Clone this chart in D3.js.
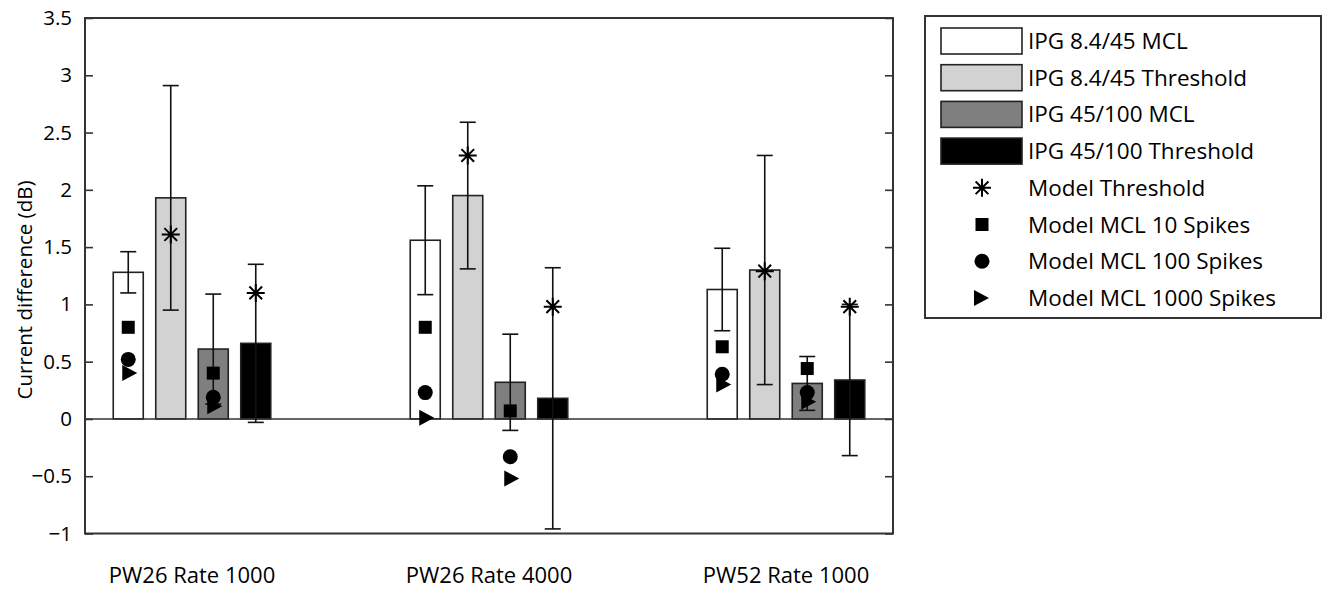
<!DOCTYPE html>
<html>
<head>
<meta charset="utf-8">
<script src="https://cdn.jsdelivr.net/npm/d3@7"></script>
<style>
  body { margin: 0; background: #fff; }
  svg text { font-family: "Open Sans", sans-serif; fill: #000; }
</style>
</head>
<body>
<svg width="1322" height="592"></svg>
<script>
const groups = ['PW26 Rate 1000', 'PW26 Rate 4000', 'PW52 Rate 1000'];
const series = ['IPG 8.4/45 MCL', 'IPG 8.4/45 Threshold', 'IPG 45/100 MCL', 'IPG 45/100 Threshold'];
const yTicks = [-1, -0.5, 0, 0.5, 1, 1.5, 2, 2.5, 3, 3.5];

// bar means per series, one value per group
const mcl84 = [1.28, 1.56, 1.13];
const thr84 = [1.93, 1.95, 1.30];
const mcl45 = [0.61, 0.32, 0.31];
const thr45 = [0.66, 0.18, 0.34];

// error bar half-lengths
const mcl84Err = [0.18, 0.475, 0.36];
const thr84Err = [0.98, 0.64, 1.00];
const mcl45Err = [0.48, 0.42, 0.235];
const thr45Err = [0.69, 1.14, 0.66];

// model predictions (threshold bars get the asterisk, MCL bars the spikes)
const modelThr84 = [1.61, 2.30, 1.29];
const modelThr45 = [1.10, 0.98, 0.98];
const spikes10_84 = [0.80, 0.80, 0.63];
const spikes10_45 = [0.40, 0.07, 0.44];
const spikes100_84 = [0.52, 0.23, 0.39];
const spikes100_45 = [0.19, -0.33, 0.23];
const spikes1000_84 = [0.40, 0.01, 0.30];
const spikes1000_45 = [0.11, -0.52, 0.15];

const fills = ['#ffffff', '#d2d2d2', '#7f7f7f', '#000000'];
const barValues = [mcl84, thr84, mcl45, thr45];
const barErrors = [mcl84Err, thr84Err, mcl45Err, thr45Err];

const svg = d3.select('svg');
const plot = { left: 85, right: 893, top: 18, bottom: 533.5 };
const axisColor = '#333';

const x = d3.scaleLinear().domain([0.6397, 3.3603]).range([plot.left, plot.right]);
const unit = x(2) - x(1);
const xInner = d3.scaleBand().domain(series)
  .range([-0.2652 * unit, 0.2652 * unit]).paddingInner(0.294);
const y = d3.scaleLinear().domain([-1, 3.5]).range([plot.bottom, plot.top]);

const barX = (g, s) => x(g + 1) + xInner(series[s]);
const barC = (g, s) => barX(g, s) + xInner.bandwidth() / 2;

// bars
const bars = [];
series.forEach((s, si) => groups.forEach((g, gi) => {
  bars.push({ si, gi, v: barValues[si][gi], e: barErrors[si][gi] });
}));

svg.append('g').selectAll('rect').data(bars).enter().append('rect')
  .attr('x', d => barX(d.gi, d.si))
  .attr('width', xInner.bandwidth())
  .attr('y', d => y(Math.max(0, d.v)))
  .attr('height', d => Math.abs(y(d.v) - y(0)))
  .attr('fill', d => fills[d.si])
  .attr('stroke', '#222')
  .attr('stroke-width', 1.6);

// zero line
svg.append('line')
  .attr('x1', plot.left).attr('x2', plot.right)
  .attr('y1', y(0)).attr('y2', y(0))
  .attr('stroke', axisColor).attr('stroke-width', 1.6);

// error bars
const eb = svg.append('g').attr('stroke', '#111').attr('stroke-width', 1.6);
bars.forEach(d => {
  const cx = barC(d.gi, d.si);
  eb.append('line').attr('x1', cx).attr('x2', cx)
    .attr('y1', y(d.v + d.e)).attr('y2', y(d.v - d.e));
  [d.v + d.e, d.v - d.e].forEach(v => {
    eb.append('line').attr('x1', cx - 8).attr('x2', cx + 8)
      .attr('y1', y(v)).attr('y2', y(v));
  });
});

// marker shapes
const asterisk = (r) => {
  const a = r * 0.7071;
  return `M${-r},0L${r},0M0,${-r}L0,${r}M${-a},${-a}L${a},${a}M${-a},${a}L${a},${-a}`;
};
const drawAsterisk = (g, cx, cy) => g.append('path')
  .attr('transform', `translate(${cx},${cy})`)
  .attr('d', asterisk(9)).attr('fill', 'none')
  .attr('stroke', '#000').attr('stroke-width', 2);
const drawSquare = (g, cx, cy) => g.append('rect')
  .attr('x', cx - 6.5).attr('y', cy - 6.5).attr('width', 13).attr('height', 13)
  .attr('fill', '#000');
const drawCircle = (g, cx, cy) => g.append('circle')
  .attr('cx', cx).attr('cy', cy).attr('r', 7.5).attr('fill', '#000');
const drawTriangle = (g, cx, cy) => g.append('path')
  .attr('d', `M${cx - 6},${cy - 8}L${cx + 9},${cy}L${cx - 6},${cy + 8}Z`)
  .attr('fill', '#000');

const marks = svg.append('g');
groups.forEach((g, gi) => {
  drawAsterisk(marks, barC(gi, 1), y(modelThr84[gi]));
  drawAsterisk(marks, barC(gi, 3), y(modelThr45[gi]));
  drawSquare(marks, barC(gi, 0), y(spikes10_84[gi]));
  drawSquare(marks, barC(gi, 2), y(spikes10_45[gi]));
  drawCircle(marks, barC(gi, 0), y(spikes100_84[gi]));
  drawCircle(marks, barC(gi, 2), y(spikes100_45[gi]));
  drawTriangle(marks, barC(gi, 0), y(spikes1000_84[gi]));
  drawTriangle(marks, barC(gi, 2), y(spikes1000_45[gi]));
});

// axes
const fmt = d => d3.format('')(d).replace('-', '\u2212');
const yAxisL = svg.append('g').attr('transform', `translate(${plot.left},0)`)
  .call(d3.axisLeft(y).tickValues(yTicks).tickSize(-8).tickPadding(13).tickFormat(fmt));
yAxisL.select('.domain').remove();
yAxisL.selectAll('.tick line').attr('stroke', axisColor).attr('stroke-width', 1.6);
yAxisL.selectAll('text').style('font-size', '20.5px').attr('fill', '#000');

const yAxisR = svg.append('g').attr('transform', `translate(${plot.right},0)`)
  .call(d3.axisRight(y).tickValues(yTicks).tickSize(-8).tickFormat(''));
yAxisR.select('.domain').remove();
yAxisR.selectAll('.tick line').attr('stroke', axisColor).attr('stroke-width', 1.6);

svg.append('rect')
  .attr('x', plot.left).attr('y', plot.top)
  .attr('width', plot.right - plot.left).attr('height', plot.bottom - plot.top)
  .attr('fill', 'none').attr('stroke', axisColor).attr('stroke-width', 2);

svg.append('g').selectAll('text').data(groups).enter().append('text')
  .attr('x', (d, i) => x(i + 1))
  .attr('y', 583)
  .attr('text-anchor', 'middle')
  .style('font-size', '22px')
  .text(d => d);

svg.append('text')
  .attr('transform', 'translate(32,290) rotate(-90)')
  .attr('text-anchor', 'middle')
  .style('font-size', '20.5px')
  .text('Current difference (dB)');

// legend
const legend = svg.append('g');
legend.append('rect')
  .attr('x', 925).attr('y', 16).attr('width', 396).attr('height', 302)
  .attr('fill', '#fff').attr('stroke', axisColor).attr('stroke-width', 2);

const legendItems = series.concat(['Model Threshold', 'Model MCL 10 Spikes', 'Model MCL 100 Spikes', 'Model MCL 1000 Spikes']);
const rowY = i => 41 + i * 36.7;
legendItems.forEach((name, i) => {
  const cy = rowY(i);
  if (i < 4) {
    legend.append('rect')
      .attr('x', 941).attr('y', cy - 13).attr('width', 81).attr('height', 26)
      .attr('fill', fills[i]).attr('stroke', '#222').attr('stroke-width', 1.6);
  } else if (i === 4) drawAsterisk(legend, 982, cy);
  else if (i === 5) drawSquare(legend, 982, cy);
  else if (i === 6) drawCircle(legend, 982, cy);
  else drawTriangle(legend, 980, cy);
  legend.append('text')
    .attr('x', 1028).attr('y', cy + 8)
    .style('font-size', '22.5px')
    .text(name);
});
</script>
</body>
</html>
